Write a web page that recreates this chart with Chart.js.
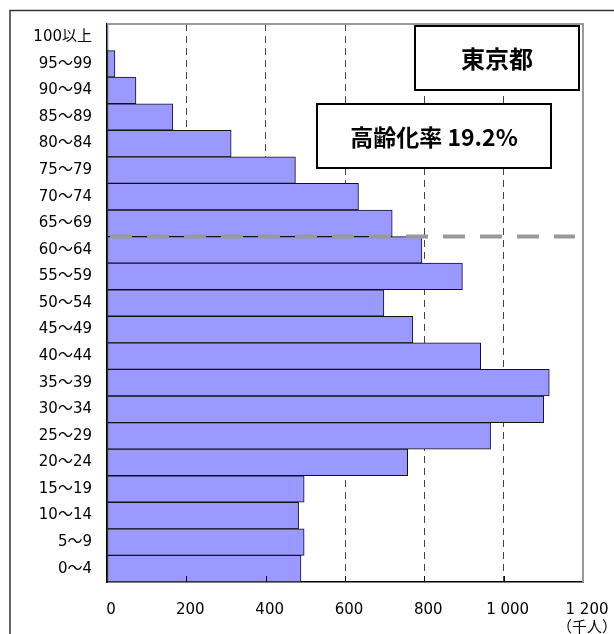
<!DOCTYPE html>
<html>
<head>
<meta charset="utf-8">
<script src="https://cdn.jsdelivr.net/npm/chart.js@4/dist/chart.umd.min.js"></script>
<style>
  html,body{margin:0;padding:0;background:#fff;}
  #wrap{position:relative;width:614px;height:634px;}
</style>
</head>
<body>
<div id="wrap"><canvas id="pyramid" width="614" height="634"></canvas></div>
<script>
// 年齢階級（上から順）
const ageGroups=['100以上','95～99','90～94','85～89','80～84','75～79','70～74','65～69','60～64','55～59',
  '50～54','45～49','40～44','35～39','30～34','25～29','20～24','15～19','10～14','5～9','0～4'];
// 人口（千人）
const population=[3,20,73,166,313,475,634,719,794,896,698,771,942,1115,1101,967,758,497,483,497,489];
const xTickLabels=['0','200','400','600','800','1 000','1 200'];
const unitLabel='（千人）';
const prefName='東京都';
const agingRate='高齢化率 19.2%';
const boundaryIndex=7.5; // 65歳以上との境目

const font="'DejaVu Sans','Noto Sans CJK JP',sans-serif";
const boxFont="'Noto Sans CJK JP',sans-serif";

const framePlugin={
  id:'frame',
  beforeDraw(chart){
    const ctx=chart.ctx;
    ctx.save();
    ctx.strokeStyle='#333';
    ctx.lineWidth=1.5;
    ctx.beginPath();
    ctx.moveTo(10,634);
    ctx.lineTo(10,10.5);
    ctx.lineTo(614,10.5);
    ctx.stroke();
    ctx.restore();
  },
  afterDatasetsDraw(chart){
    const {ctx,chartArea:a,scales}=chart;
    ctx.save();
    // 枠（上・右）
    ctx.strokeStyle='#999';
    ctx.lineWidth=2;
    ctx.beginPath();
    ctx.moveTo(a.left,a.top);
    ctx.lineTo(a.right,a.top);
    ctx.lineTo(a.right,a.bottom);
    ctx.stroke();
    // 目盛り（内向き）
    ctx.strokeStyle='#000';
    ctx.lineWidth=1;
    scales.x.ticks.forEach(t=>{
      if(t.value===0||t.value===1200)return;
      const px=Math.round(scales.x.getPixelForValue(t.value))+0.5;
      ctx.beginPath();
      ctx.moveTo(px,a.bottom);
      ctx.lineTo(px,a.bottom-6);
      ctx.stroke();
    });
    // 65歳の境界線
    const y=scales.y.getPixelForValue(boundaryIndex);
    ctx.strokeStyle='#999';
    ctx.lineWidth=4;
    ctx.setLineDash([22,15]);
    ctx.beginPath();
    ctx.moveTo(a.left+3,y);
    ctx.lineTo(a.right-8,y);
    ctx.stroke();
    ctx.setLineDash([]);
    // ラベルの箱
    const box=(x,y,w,h,text,size)=>{
      ctx.fillStyle='#fff';
      ctx.fillRect(x,y,w,h);
      ctx.strokeStyle='#000';
      ctx.lineWidth=2;
      ctx.strokeRect(x,y,w,h);
      ctx.fillStyle='#000';
      ctx.font='bold '+size+'px '+boxFont;
      ctx.textAlign='center';
      ctx.textBaseline='middle';
      ctx.fillText(text,x+w/2,y+h/2+1);
    };
    box(415,26,164,64,prefName,24);
    box(317,104,234,64,agingRate,23);
    ctx.restore();
  }
};

new Chart(document.getElementById('pyramid'),{
  type:'bar',
  data:{
    labels:ageGroups,
    datasets:[{
      data:population,
      backgroundColor:'#9999ff',
      borderColor:'#111',
      borderWidth:1,
      borderSkipped:false,
      barPercentage:1,
      categoryPercentage:1
    }]
  },
  options:{
    indexAxis:'y',
    responsive:false,
    animation:false,
    devicePixelRatio:1,
    layout:{padding:{top:24,right:31,left:0,bottom:0}},
    plugins:{legend:{display:false},tooltip:{enabled:false}},
    scales:{
      x:{
        min:0,max:1200,
        afterFit(s){s.height=52;s.paddingLeft=0;s.paddingRight=0;},
        ticks:{
          stepSize:200,
          padding:19,
          labelOffset:4,
          color:'#000',
          font:{family:font,size:15},
          callback(v,i){
            return i===xTickLabels.length-1?[xTickLabels[i],unitLabel]:xTickLabels[i];
          }
        },
        grid:{
          drawTicks:false,
          lineWidth:1,
          color:c=>(c.tick&&(c.tick.value===0||c.tick.value===1200))?'rgba(0,0,0,0)':'#444'
        },
        border:{display:true,color:'#000',width:1.5,dash:[7,5]}
      },
      y:{
        afterFit(s){s.width=107;s.paddingTop=0;s.paddingBottom=0;},
        ticks:{
          padding:15,
          color:'#000',
          font:{family:font,size:15}
        },
        grid:{display:false,drawTicks:false},
        border:{display:true,color:'#000',width:1.5}
      }
    }
  },
  plugins:[framePlugin]
});
</script>
</body>
</html>
